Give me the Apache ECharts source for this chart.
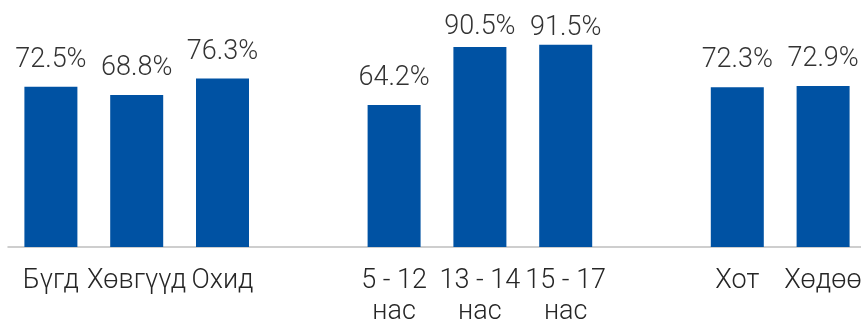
<!DOCTYPE html>
<html>
<head>
<meta charset="utf-8">
<script src="https://cdn.jsdelivr.net/npm/echarts@6/dist/echarts.min.js"></script>
<style>
	html, body { margin: 0; padding: 0; background: #fff; }
	#chart { width: 861px; height: 322px; }
</style>
</head>
<body>
<div id="chart"></div>
<script>
	// ангилал (хоосон нь бүлэг хоорондын зай)
	var categories = ['Бүгд', 'Хөвгүүд', 'Охид', '', '5 - 12\nнас', '13 - 14\nнас', '15 - 17\nнас', '', 'Хот', 'Хөдөө'];
	var values = [72.5, 68.8, 76.3, '-', 64.2, 90.5, 91.5, '-', 72.3, 72.9];

	// өндөр баганын шошго дээд хязгаарт шахагдсан
	var labelDistance = { 5: 6, 6: 3 };

	var seriesData = values.map(function (v, i) {
		if (labelDistance[i] == null) return v;
		return { value: v, label: { distance: labelDistance[i] } };
	});

	var myChart = echarts.init(document.getElementById('chart'));
	var option = {
		animation: false,
		grid: {
			left: 8,
			width: 858,
			top: 26,
			height: 221,
			outerBoundsMode: 'none'
		},
		xAxis: {
			type: 'category',
			data: categories,
			axisLine: { lineStyle: { color: '#bfbfbf', width: 1.5 } },
			axisTick: { length: 7, lineStyle: { color: '#bfbfbf', width: 1.5 } },
			axisLabel: {
				interval: 0,
				margin: 19,
				color: '#262626',
				fontFamily: 'Roboto',
				fontWeight: 300,
				fontSize: 27,
				lineHeight: 31
			}
		},
		yAxis: {
			type: 'value',
			min: 0,
			max: 100,
			show: false
		},
		series: [{
			type: 'bar',
			data: seriesData,
			barWidth: 53,
			itemStyle: { color: '#0052a3' },
			label: {
				show: true,
				position: 'top',
				distance: 13,
				formatter: function (p) { return p.value.toFixed(1) + '%'; },
				color: '#333',
				fontFamily: 'Roboto',
				fontWeight: 300,
				fontSize: 27
			}
		}]
	};
	myChart.setOption(option);
</script>
</body>
</html>
